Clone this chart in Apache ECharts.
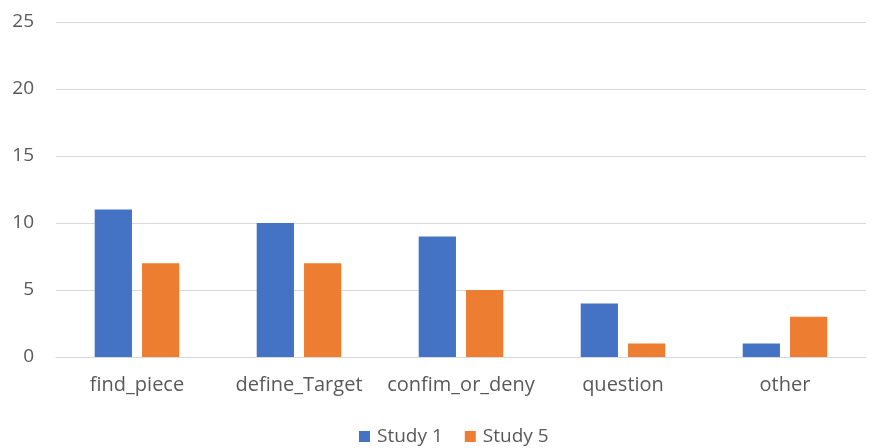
<!DOCTYPE html>
<html>
<head>
<meta charset="utf-8">
<script src="https://cdn.jsdelivr.net/npm/echarts@6/dist/echarts.min.js"></script>
<style>
  html, body { margin: 0; padding: 0; background: #fff; }
  #chart { width: 873px; height: 448px; }
</style>
</head>
<body>
<div id="chart"></div>
<script>
// Counts per dialogue-act category for two studies
const categories = ['find_piece', 'define_Target', 'confim_or_deny', 'question', 'other'];
const study1 = [11, 10, 9, 4, 1];
const study5 = [7, 7, 5, 1, 3];
const yTicks = { min: 0, max: 25, interval: 5 };

const textColor = '#595959';
const fontFamily = '"Open Sans", "Noto Sans", sans-serif';

const chart = echarts.init(document.getElementById('chart'), null, { renderer: 'canvas' });
chart.setOption({
  animation: false,
  textStyle: { fontFamily: fontFamily },
  grid: { left: 56, right: 7, top: 22, bottom: 91, containLabel: false },
  legend: {
    top: 427,
    left: 359,
    padding: 0,
    itemWidth: 11,
    itemHeight: 11,
    itemGap: 22,
    icon: 'rect',
    textStyle: { color: textColor, fontSize: 19, fontFamily: fontFamily, padding: [0, 0, 0, 2] },
    data: ['Study 1', 'Study 5']
  },
  xAxis: {
    type: 'category',
    data: categories,
    axisLine: { lineStyle: { color: '#d9d9d9', width: 1 } },
    axisTick: { show: false },
    axisLabel: { color: textColor, fontSize: 20, margin: 18, interval: 0, hideOverlap: false, fontFamily: fontFamily }
  },
  yAxis: {
    type: 'value',
    min: yTicks.min,
    max: yTicks.max,
    interval: yTicks.interval,
    axisLine: { show: false },
    axisTick: { show: false },
    splitLine: { lineStyle: { color: '#d9d9d9', width: 1 } },
    axisLabel: { color: textColor, fontSize: 19, margin: 22, fontFamily: fontFamily }
  },
  series: [
    {
      name: 'Study 1',
      type: 'bar',
      data: study1,
      barWidth: '23%',
      barGap: '27%',
      itemStyle: { color: '#4472C4' }
    },
    {
      name: 'Study 5',
      type: 'bar',
      data: study5,
      barWidth: '23%',
      barGap: '27%',
      itemStyle: { color: '#ED7D31' }
    }
  ]
});
</script>
</body>
</html>
